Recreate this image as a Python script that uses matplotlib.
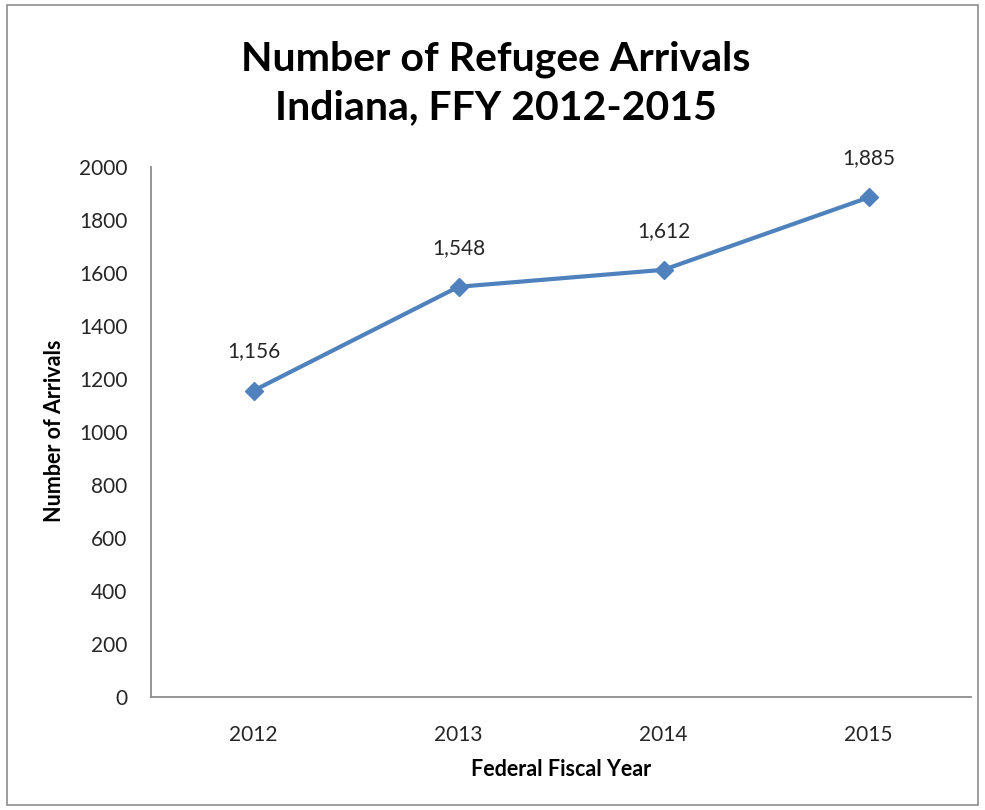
import matplotlib
matplotlib.use("Agg")
import matplotlib.pyplot as plt
from matplotlib.patches import Rectangle

years = ["2012", "2013", "2014", "2015"]
arrivals = [1156, 1548, 1612, 1885]
y_ticks = [0, 200, 400, 600, 800, 1000, 1200, 1400, 1600, 1800, 2000]

plt.rcParams["font.family"] = ["Lato", "DejaVu Sans"]

W, H = 985, 810
fig = plt.figure(figsize=(W / 100, H / 100), dpi=100)
fig.patch.set_facecolor("white")

# chart-area frame
fig.patches.append(Rectangle((7 / W, 1 - 805 / H), (978 - 7) / W, (805 - 5) / H,
                             transform=fig.transFigure, fill=False,
                             edgecolor="#8c8c8c", linewidth=1.2))

left, right, top, bottom = 151, 971, 167, 697
ax = fig.add_axes([left / W, 1 - bottom / H, (right - left) / W, (bottom - top) / H])

x = list(range(len(years)))
ax.plot(x, arrivals, color="#4F81BD", linewidth=3, marker="D", markersize=9.5,
        markerfacecolor="#4F81BD", markeredgecolor="#4F81BD")

for xi, v in zip(x, arrivals):
    ax.annotate(f"{v:,}", (xi, v), xytext=(0, 21), textcoords="offset points",
                ha="center", va="bottom", fontsize=15, color="#262626")

ax.set_xlim(-0.5, len(years) - 0.5)
ax.set_ylim(0, 2000)
ax.set_xticks(x)
ax.set_xticklabels(years)
ax.set_yticks(y_ticks)
ax.tick_params(axis="both", length=0, labelsize=15, colors="#262626")
ax.tick_params(axis="y", pad=17)
ax.tick_params(axis="x", pad=20)

for side in ("top", "right"):
    ax.spines[side].set_visible(False)
for side in ("left", "bottom"):
    ax.spines[side].set_color("#8c8c8c")
    ax.spines[side].set_linewidth(1.3)

fig.text(55 / W, 1 - 431 / H, "Number of Arrivals", rotation=90,
         ha="center", va="center", fontsize=15.5, fontweight="bold", color="black")
fig.text(561 / W, 1 - 770 / H, "Federal Fiscal Year",
         ha="center", va="center", fontsize=15.5, fontweight="bold", color="black")

fig.text(496 / W, 1 - 83 / H, "Number of Refugee Arrivals\nIndiana, FFY 2012-2015",
         ha="center", va="center", fontsize=29.5, fontweight="bold",
         linespacing=1.38, color="black")

fig.savefig("out.png", dpi=100, facecolor="white")
